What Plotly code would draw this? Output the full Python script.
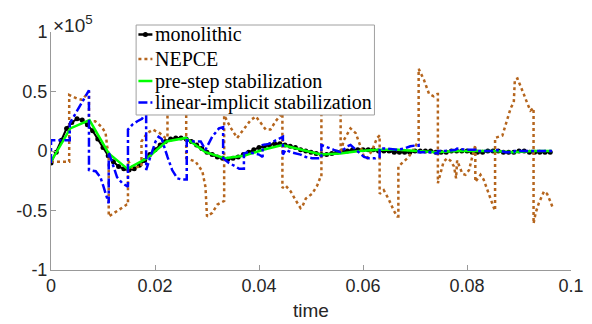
import plotly.graph_objects as go

# values in units of 1e5
mono_t = [i / 1000 for i in range(97)]
mono_v = [-0.10, -0.01, 0.09, 0.19, 0.24, 0.27, 0.26, 0.22, 0.17, 0.10,
          0.03, -0.04, -0.09, -0.13, -0.15, -0.16, -0.15, -0.12, -0.08, -0.03,
          0.01, 0.05, 0.08, 0.10, 0.11, 0.11, 0.10, 0.08, 0.05, 0.02,
          -0.01, -0.03, -0.05, -0.06, -0.07, -0.06, -0.05, -0.03, -0.01, 0.01,
          0.03, 0.04, 0.05, 0.06, 0.06, 0.05, 0.04, 0.03, 0.01, 0.00,
          -0.01, -0.02, -0.03, -0.03, -0.02, -0.01, 0.00, 0.00, 0.01, 0.01,
          0.01, 0.01, 0.01, 0.00, 0.00, 0.00, -0.01, -0.01, -0.01, -0.01,
          0.00, 0.00, 0.00, 0.00, -0.01, -0.01, -0.01, 0.00, 0.00, 0.00,
          0.00, -0.01, -0.01, -0.01, 0.00, 0.00, 0.00, -0.01, -0.01, -0.01,
          0.00, 0.00, -0.01, -0.01, -0.01, -0.01, -0.01]

nepce_t = [0.0000, 0.0035, 0.0035, 0.0050, 0.0060, 0.0073, 0.0073, 0.0085, 0.0098, 0.0105,
           0.0108, 0.0111, 0.0111, 0.0124, 0.0137, 0.0146, 0.0148, 0.0148, 0.0156, 0.0174,
           0.0174, 0.0185, 0.0196, 0.0209, 0.0220, 0.0224, 0.0224, 0.0260, 0.0260, 0.0278,
           0.0291, 0.0297, 0.0300, 0.0310, 0.0320, 0.0329, 0.0333, 0.0333, 0.0345, 0.0358,
           0.0370, 0.0384, 0.0394, 0.0403, 0.0413, 0.0422, 0.0432, 0.0445, 0.0445, 0.0451,
           0.0461, 0.0470, 0.0480, 0.0483, 0.0490, 0.0502, 0.0512, 0.0518, 0.0520, 0.0520,
           0.0557, 0.0557, 0.0563, 0.0576, 0.0586, 0.0595, 0.0602, 0.0608, 0.0618, 0.0627,
           0.0632, 0.0632, 0.0640, 0.0650, 0.0659, 0.0666, 0.0668, 0.0668, 0.0675, 0.0688,
           0.0701, 0.0706, 0.0707, 0.0707, 0.0717, 0.0727, 0.0736, 0.0743, 0.0744, 0.0744,
           0.0749, 0.0755, 0.0762, 0.0768, 0.0775, 0.0779, 0.0781, 0.0791, 0.0797, 0.0804,
           0.0810, 0.0815, 0.0816, 0.0816, 0.0826, 0.0832, 0.0839, 0.0845, 0.0851, 0.0854,
           0.0854, 0.0868, 0.0877, 0.0884, 0.0890, 0.0892, 0.0897, 0.0903, 0.0909, 0.0916,
           0.0922, 0.0928, 0.0928, 0.0932, 0.0938, 0.0948, 0.0954, 0.0961, 0.0965]
nepce_v = [-0.09, -0.09, 0.47, 0.44, 0.43, 0.50, 0.25, 0.25, 0.20, 0.15,
           0.04, -0.03, -0.55, -0.51, -0.47, -0.45, -0.45, -0.08, -0.14, -0.13,
           0.08, 0.15, 0.18, 0.15, 0.11, 0.11, 0.45, 0.42, -0.06, -0.09,
           -0.17, -0.30, -0.55, -0.52, -0.45, -0.43, -0.42, 0.30, 0.20, 0.11,
           0.18, 0.26, 0.29, 0.24, 0.18, 0.18, 0.25, 0.32, -0.31, -0.29,
           -0.34, -0.41, -0.48, -0.47, -0.40, -0.36, -0.29, -0.22, -0.22, 0.40,
           0.40, -0.02, 0.09, 0.19, 0.15, 0.04, -0.05, -0.06, 0.01, 0.11,
           0.13, -0.36, -0.33, -0.41, -0.50, -0.55, -0.55, -0.13, -0.10, -0.05,
           0.04, 0.09, 0.09, 0.69, 0.60, 0.48, 0.46, 0.48, 0.48, -0.27,
           -0.19, -0.09, -0.06, -0.08, -0.13, -0.23, -0.08, -0.19, -0.20, -0.16,
           -0.05, 0.05, 0.05, -0.26, -0.20, -0.24, -0.33, -0.41, -0.47, -0.50,
           0.11, 0.13, 0.26, 0.36, 0.41, 0.60, 0.61, 0.55, 0.48, 0.40,
           0.34, 0.36, -0.61, -0.52, -0.44, -0.34, -0.36, -0.43, -0.48]

prestep_t = [0.0000, 0.0037, 0.0074, 0.0111, 0.0147, 0.0185, 0.0222, 0.0259, 0.0297, 0.0334,
             0.0371, 0.0408, 0.0445, 0.0482, 0.0519, 0.0556, 0.0593, 0.0630, 0.0667, 0.0704,
             0.0741, 0.0778, 0.0815, 0.0852, 0.0889, 0.0926, 0.0963]
prestep_v = [-0.09, 0.19, 0.26, -0.02, -0.15, -0.06, 0.08, 0.11, -0.01, -0.06,
             -0.04, 0.01, 0.05, 0.01, -0.03, -0.02, 0.00, 0.01, 0.01, 0.00,
             -0.01, 0.00, 0.00, 0.00, -0.01, 0.00, 0.00]

linimp_t = [0.0000, 0.0000, 0.0036, 0.0036, 0.0073, 0.0073, 0.0086, 0.0095, 0.0101, 0.0108,
            0.0111, 0.0111, 0.0121, 0.0127, 0.0137, 0.0146, 0.0148, 0.0148, 0.0156, 0.0166,
            0.0175, 0.0183, 0.0183, 0.0191, 0.0201, 0.0207, 0.0213, 0.0224, 0.0233, 0.0243,
            0.0252, 0.0261, 0.0261, 0.0275, 0.0288, 0.0297, 0.0310, 0.0323, 0.0329, 0.0331,
            0.0331, 0.0342, 0.0355, 0.0362, 0.0371, 0.0371, 0.0380, 0.0390, 0.0400, 0.0407,
            0.0407, 0.0419, 0.0432, 0.0441, 0.0446, 0.0446, 0.0451, 0.0461, 0.0480, 0.0490,
            0.0502, 0.0515, 0.0520, 0.0520, 0.0531, 0.0544, 0.0557, 0.0570, 0.0576, 0.0595,
            0.0602, 0.0611, 0.0624, 0.0630, 0.0632, 0.0632, 0.0647, 0.0666, 0.0679, 0.0691,
            0.0704, 0.0707, 0.0707, 0.0717, 0.0730, 0.0743, 0.0744, 0.0744, 0.0759, 0.0778,
            0.0781, 0.0800, 0.0816, 0.0816, 0.0848, 0.0854, 0.0874, 0.0890, 0.0892, 0.0928,
            0.0950, 0.0965]
linimp_v = [-0.10, 0.09, 0.09, 0.23, 0.51, -0.16, -0.17, -0.22, -0.30, -0.41,
            -0.44, -0.01, -0.13, -0.22, -0.27, -0.30, -0.30, 0.18, 0.22, 0.25,
            0.27, 0.33, -0.16, -0.05, 0.08, 0.12, 0.10, -0.05, -0.16, -0.23,
            -0.24, -0.24, 0.09, 0.08, 0.08, 0.01, 0.12, 0.19, 0.20, 0.20,
            -0.06, -0.10, -0.13, -0.15, -0.15, -0.02, -0.01, -0.02, -0.03, -0.05,
            0.05, 0.06, 0.09, 0.11, 0.12, -0.03, 0.01, -0.01, -0.03, -0.05,
            -0.06, -0.06, -0.06, 0.05, 0.03, 0.01, -0.01, 0.04, 0.05, -0.02,
            -0.05, -0.06, -0.06, -0.05, -0.05, 0.02, 0.02, 0.01, 0.02, 0.04,
            0.05, 0.05, -0.01, -0.01, -0.01, -0.02, -0.02, 0.00, 0.00, 0.01,
            0.02, 0.01, 0.01, 0.00, 0.00, 0.01, -0.01, -0.01, 0.00, 0.00,
            0.00, 0.00]

series_names = ["monolithic", "NEPCE", "pre-step stabilization", "linear-implicit stabilization"]
series_colors = ["black", "#b5651d", "#00ff00", "#0000ff"]
series_dash = ["solid", "dot", "solid", "dashdot"]

x_tickvals = [0, 0.02, 0.04, 0.06, 0.08, 0.1]
x_ticktext = ["0", "0.02", "0.04", "0.06", "0.08", "0.1"]
y_tickvals = [-1, -0.5, 0, 0.5, 1]
y_ticktext = ["-1", "-0.5", "0", "0.5", "1"]

fig = go.Figure()
fig.add_trace(go.Scatter(x=mono_t, y=mono_v, name=series_names[0], mode="lines+markers",
                         line=dict(color=series_colors[0], width=2),
                         marker=dict(color=series_colors[0], size=5)))
fig.add_trace(go.Scatter(x=nepce_t, y=nepce_v, name=series_names[1], mode="lines",
                         line=dict(color=series_colors[1], width=2.5, dash=series_dash[1])))
fig.add_trace(go.Scatter(x=prestep_t, y=prestep_v, name=series_names[2], mode="lines",
                         line=dict(color=series_colors[2], width=2.5)))
fig.add_trace(go.Scatter(x=linimp_t, y=linimp_v, name=series_names[3], mode="lines",
                         line=dict(color=series_colors[3], width=2.5, dash=series_dash[3])))

# legend box drawn in paper coordinates (plot area spans 0..1)
leg_x0, leg_x1, leg_y0, leg_y1 = 0.1637, 0.6220, 0.6513, 1.0294
row_y = [0.9895, 0.8866, 0.7941, 0.7038]
samp_x0, samp_x1, text_x = 0.1681, 0.1950, 0.1960

shapes = [dict(type="rect", xref="paper", yref="paper", x0=leg_x0, x1=leg_x1,
               y0=leg_y0, y1=leg_y1, fillcolor="white",
               line=dict(color="#a0a0a0", width=1), layer="above")]
annotations = []
for name, col, dash, ry in zip(series_names, series_colors, series_dash, row_y):
    shapes.append(dict(type="line", xref="paper", yref="paper", x0=samp_x0, x1=samp_x1,
                       y0=ry, y1=ry, line=dict(color=col, width=2.5, dash=dash), layer="above"))
    annotations.append(dict(text=name, xref="paper", yref="paper", x=text_x, y=ry,
                            xanchor="left", yanchor="middle", showarrow=False,
                            font=dict(family="Liberation Serif", size=20, color="black")))
shapes.append(dict(type="circle", xref="paper", yref="paper",
                   xsizemode="pixel", ysizemode="pixel",
                   xanchor=(samp_x0 + samp_x1) / 2, yanchor=row_y[0],
                   x0=-2.5, x1=2.5, y0=-2.5, y1=2.5,
                   fillcolor="black", line=dict(color="black", width=0), layer="above"))

sans = "Liberation Sans"
axis_font = dict(family=sans, size=18, color="#262626")
annotations.append(dict(text="\u00d710<sup>5</sup>", xref="paper", yref="paper",
                        x=0, y=1, xanchor="left", yanchor="bottom", showarrow=False,
                        font=dict(family=sans, size=19, color="#262626"), yshift=-6))

# page body has an 8px margin, so the figure is shifted by 8px right and down
fig.update_layout(
    width=584, height=316,
    margin=dict(l=42.5, r=21, t=24, b=54, autoexpand=False),
    paper_bgcolor="white", plot_bgcolor="white",
    font=axis_font,
    showlegend=False,
    shapes=shapes,
    annotations=annotations,
    xaxis=dict(range=[0, 0.1], tickvals=x_tickvals, ticktext=x_ticktext,
               showline=True, linecolor="#999999", linewidth=1, mirror=False,
               ticks="inside", ticklen=5, tickcolor="#999999", ticklabelstandoff=-1,
               showgrid=False, zeroline=False, tickfont=axis_font, automargin=False,
               title=dict(text="time", font=dict(family=sans, size=19, color="#262626"), standoff=9)),
    yaxis=dict(range=[-1, 1], tickvals=y_tickvals, ticktext=y_ticktext,
               showline=True, linecolor="#999999", linewidth=1, mirror=False,
               ticks="inside", ticklen=5, tickcolor="#999999", automargin=False,
               ticklabelstandoff=-1,
               showgrid=False, zeroline=False, tickfont=axis_font),
)

fig.write_html("out.html")
